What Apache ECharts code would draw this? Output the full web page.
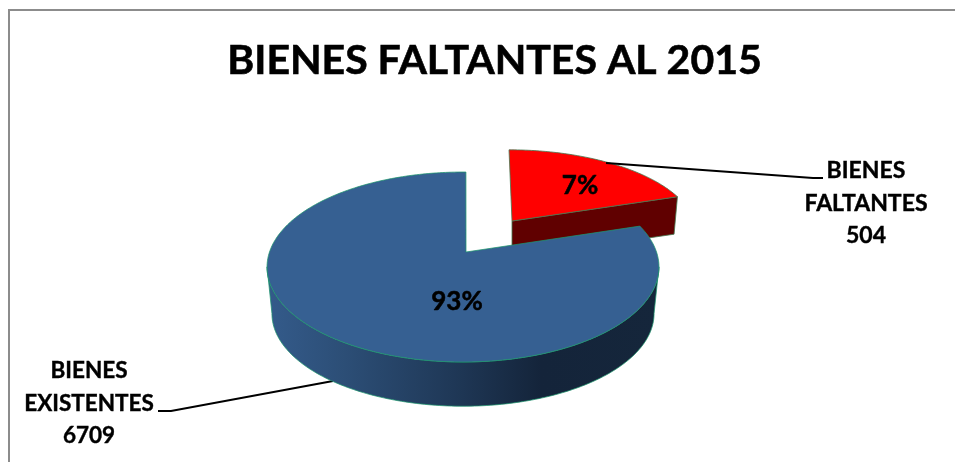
<!DOCTYPE html>
<html>
<head>
<meta charset="utf-8">
<style>html,body{margin:0;padding:0;background:#fff}#c{width:955px;height:462px}</style>
<script src="https://cdn.jsdelivr.net/npm/echarts@6/dist/echarts.min.js"></script>
</head>
<body>
<div id="c"></div>
<script>
// Chart values as printed in the reference.
const titleText = 'BIENES FALTANTES AL 2015';
const categories = ['BIENES EXISTENTES', 'BIENES FALTANTES'];
const labelLines = [['BIENES', 'EXISTENTES'], ['BIENES', 'FALTANTES']];
const counts = [6709, 504];
const percentLabels = ['93%', '7%'];
// The reference's slices are not drawn to the printed percentages:
// the angles measured on the picture are about 80% and 20%.
const drawnShares = [80, 20];

// Layout of the 3D pie (perspective-projected, exploded).
const FONT = 'Lato, "Open Sans", sans-serif';
const RX = 193.5, RY = 92.6, PERSP = 0.158;
const layout = [
  { apex: [466, 252], rim: [463, 252], sx: 1, sy: 1, depth: 47, bottomScale: 0.975,
    startDeg: 361, dir: -1, top: '#366092', stroke: 'rgba(30,150,110,0.75)',
    wall: new echarts.graphic.LinearGradient(0, 0, 1, 0, [
      { offset: 0, color: '#345b8b' }, { offset: 0.2, color: '#2c4e76' },
      { offset: 0.5, color: '#1e3654' }, { offset: 0.7, color: '#14243a' },
      { offset: 1, color: '#15263b' }]),
    pct: [457, 302], label: [89, 371], lineGap: 32.5, labelSize: 22.5,
    leader: [[333, 381], [171, 411], [158, 411]], z: 10 },
  { apex: [512, 221], rim: [509, 221], sx: 0.96, sy: 0.89, depth: 37, bottomScale: 0.98,
    startDeg: 0, dir: 1, top: '#ff0000', stroke: 'rgba(70,120,80,0.8)',
    wall: '#600000',
    pct: [580, 186], label: [866, 171], lineGap: 32.5, labelSize: 23,
    leader: [[606, 163], [813, 178], [823, 178]], z: 1 }
];

function rimPoint(g, deg, lower) {
  const t = deg * Math.PI / 180, u = Math.sin(t), v = -Math.cos(t);
  const d = 1 - PERSP * v, s = lower ? g.bottomScale : 1, dy = lower ? g.depth : 0;
  return [g.rim[0] + s * g.sx * RX * u / d, g.rim[1] + dy + s * g.sy * RY * v / d];
}
function arc(g, a, b, lower) {
  const pts = [], n = Math.max(2, Math.ceil(Math.abs(b - a)));
  for (let i = 0; i <= n; i++) pts.push(rimPoint(g, a + (b - a) * i / n, lower));
  return pts;
}

function renderItem(params, api) {
  const i = params.dataIndex, g = layout[i];
  const total = drawnShares.reduce((a, b) => a + b, 0);
  const sweep = api.value(0) / total * 360;
  const a0 = g.startDeg, a1 = g.startDeg + g.dir * sweep;
  const children = [];
  const poly = (pts, fill, z2) => children.push({ type: 'polygon', z2: g.z + z2,
    shape: { points: pts }, style: { fill, stroke: g.stroke, lineWidth: 1 } });

  if (i === 1) {
    // straight cut face running from the apex to the end of the rim
    const tEnd = rimPoint(g, a1, false), bEnd = rimPoint(g, a1, true);
    const bApex = [g.apex[0], g.apex[1] + g.depth];
    poly([g.apex, tEnd, bEnd, bApex], g.wall, 0);
  } else {
    // outer wall, between the two side extremes of the rim
    poly(arc(g, 99, 261, false).concat(arc(g, 99, 261, true).reverse()), g.wall, 0);
  }
  poly([g.apex].concat(arc(g, a0, a1, false)), g.top, 1);

  children.push({ type: 'polyline', z2: i === 0 ? -1 : 40, shape: { points: g.leader },
    style: { fill: null, stroke: '#000', lineWidth: 2 } });
  children.push({ type: 'text', z2: 50, style: { x: g.pct[0], y: g.pct[1], text: percentLabels[i],
    font: 'bold 26px ' + FONT, fill: '#000', stroke: '#000', lineWidth: 0.5,
    align: 'center', verticalAlign: 'middle' } });
  labelLines[i].concat(String(counts[i])).forEach((t, k) => children.push({ type: 'text', z2: 50,
    style: { x: g.label[0], y: g.label[1] + k * g.lineGap, text: t,
      font: 'bold ' + g.labelSize + 'px ' + FONT, fill: '#000', stroke: '#000', lineWidth: 0.4,
      align: 'center', verticalAlign: 'middle' } }));
  return { type: 'group', children };
}

const chart = echarts.init(document.getElementById('c'), null, { renderer: 'canvas' });
chart.setOption({
  backgroundColor: '#fff',
  animation: false,
  title: { text: titleText, left: 489.5, top: 35, textAlign: 'center',
    textStyle: { fontFamily: FONT, fontWeight: 'bold', fontSize: 41, color: '#000',
      textBorderColor: '#000', textBorderWidth: 0.6 } },
  graphic: [
    { type: 'polyline', z: 0, silent: true, shape: { points: [[9, 462], [9, 10], [955, 10]] },
      style: { fill: null, stroke: '#8c8c8c', lineWidth: 2 } }
  ],
  series: [{
    type: 'custom', coordinateSystem: 'none', silent: true, renderItem,
    data: categories.map((name, i) => ({ name, value: [drawnShares[i], counts[i]] }))
  }]
});
</script>
</body>
</html>
